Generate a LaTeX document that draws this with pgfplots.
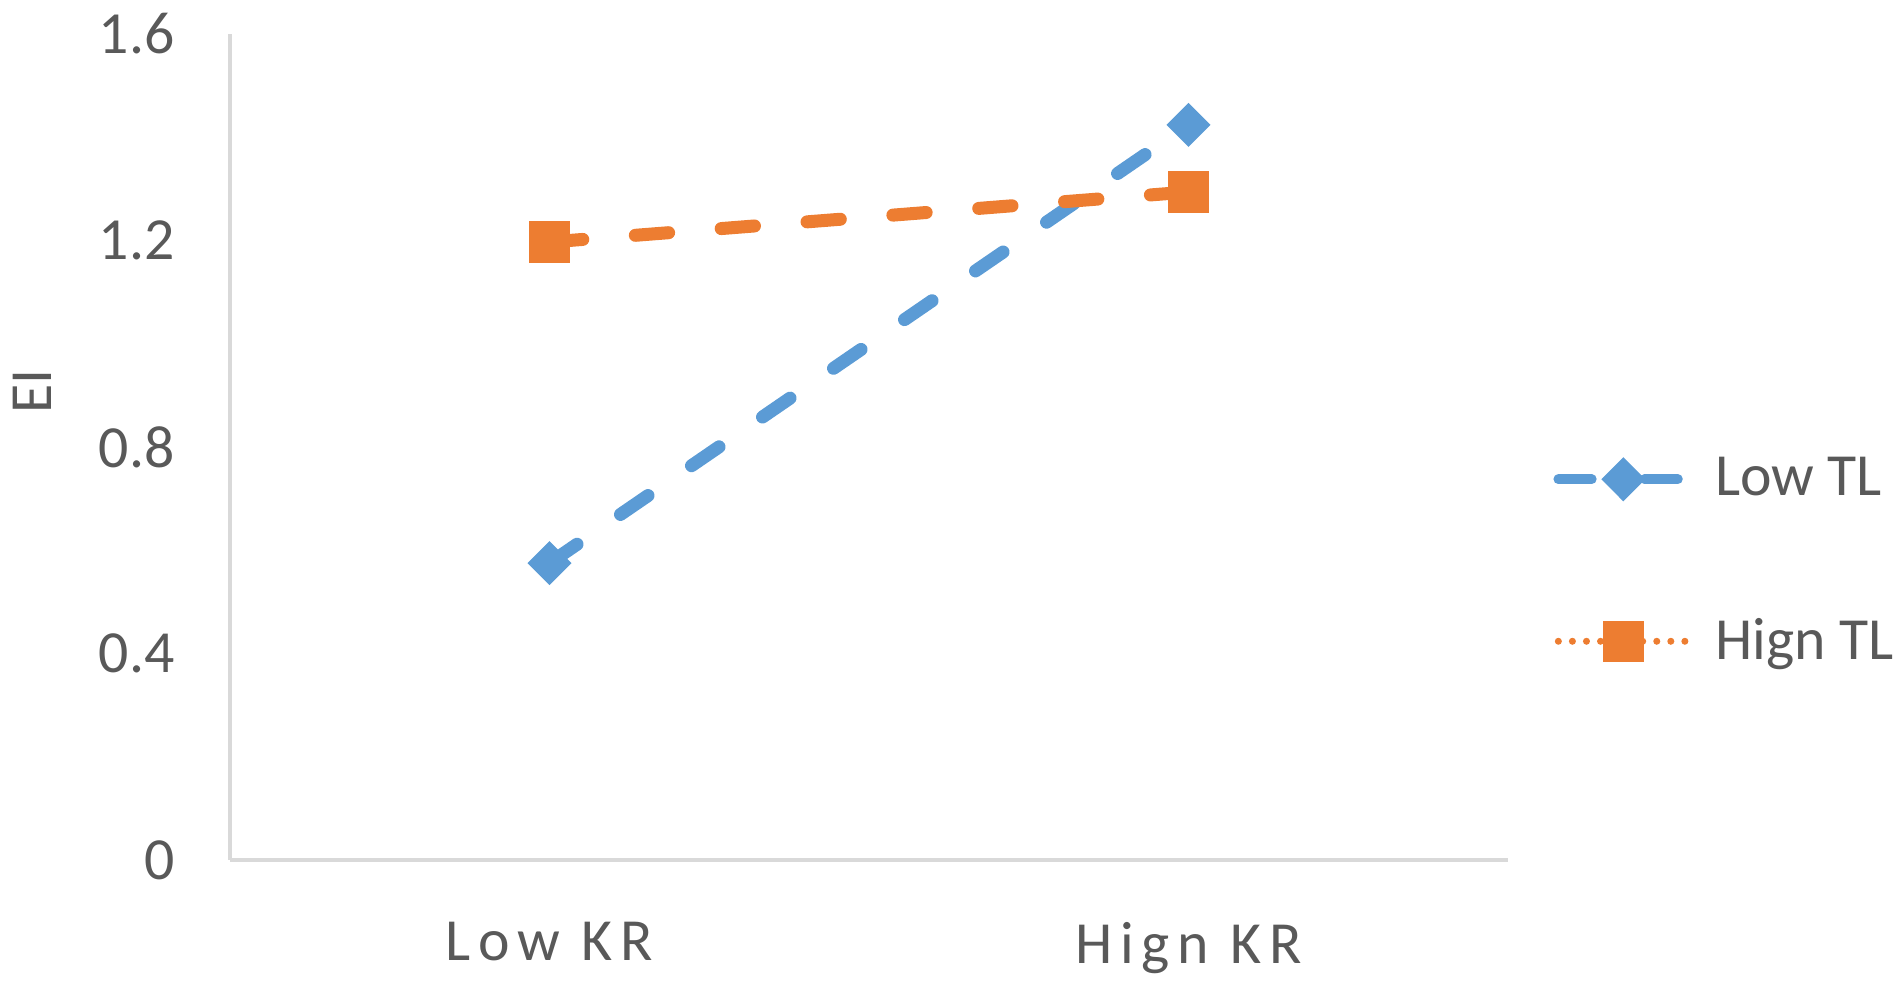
\documentclass[border=0pt]{standalone}
\usepackage{fontspec}
\setmainfont{Carlito}
\newfontfamily\spacedfont{Carlito}[LetterSpace=13]
\usepackage{pgfplots}
\pgfplotsset{compat=1.18}
\definecolor{xlBlue}{HTML}{5B9BD5}
\definecolor{xlOrange}{HTML}{ED7D31}
\definecolor{xlText}{HTML}{595959}
\definecolor{xlAxis}{HTML}{D9D9D9}

\begin{document}
\begin{tikzpicture}
\path[use as bounding box] (-2.30cm,-1.22cm) rectangle (16.71cm,8.60cm);
\begin{axis}[
  at={(0,0)}, anchor=south west,
  width=12.78cm, height=8.26cm, scale only axis,
  xmin=-0.5, xmax=1.5, ymin=0, ymax=1.6,
  axis x line*=bottom, axis y line*=left,
  axis line style={xlAxis, line width=0.9pt, -},
  xtick={0,1}, xticklabels={Low KR, Hign KR},
  ytick={0,0.4,0.8,1.2,1.6}, yticklabels={0,0.4,0.8,1.2,1.6},
  major tick length=0pt,
  tick label style={font=\fontsize{17}{20}\selectfont, text=xlText},
  xticklabel style={font=\fontsize{17}{20}\selectfont\spacedfont, yshift=-0.50cm},
  yticklabel style={xshift=-0.43cm},
  ylabel={EI},
  ylabel style={at={(axis description cs:-0.1549,0.567)}, anchor=center, font=\fontsize{17}{20}\selectfont, text=xlText},
  /pgf/number format/assume math mode=true,
  legend image code/.code={\draw[mark repeat=2,mark phase=2] plot coordinates {(0cm,0cm) (0.65cm,0cm) (1.30cm,0cm)};},
  legend style={draw=none, fill=none, at={(axis description cs:1.0350,0.362)}, anchor=west,
    inner sep=0pt, row sep=0.89cm, font=\fontsize{17}{20}\selectfont, text=xlText,
    nodes={inner sep=0.14cm}},
  legend cell align=left,
  clip=false,
]
\addplot[forget plot, xlBlue, line width=3.7pt, line cap=round, dash pattern=on 9.5pt off 15pt,
  mark=diamond*, mark size=6pt, mark options={solid, xscale=1.33, fill=xlBlue, line width=0.4pt}]
  coordinates {(0,0.575) (1,1.424)};
\addplot[forget plot, xlOrange, line width=3.7pt, line cap=round, dash pattern=on 9.5pt off 15pt,
  mark=square*, mark size=5.7pt, mark options={solid, fill=xlOrange, line width=0.4pt}]
  coordinates {(0,1.197) (1,1.294)};
\addlegendimage{xlBlue, line width=2.8pt, line cap=round, dash pattern=on 9.5pt off 15pt,
  mark=diamond*, mark size=6pt, mark options={solid, xscale=1.33, fill=xlBlue, line width=0.4pt}}
\addlegendentry{\hspace{0.08cm}Low TL}
\addlegendimage{xlOrange, line width=2pt, line cap=round, dash pattern=on 0pt off 4pt,
  mark=square*, mark size=5.7pt, mark options={solid, fill=xlOrange, line width=0.4pt}}
\addlegendentry{\hspace{0.08cm}Hign TL}
\end{axis}
\end{tikzpicture}
\end{document}
